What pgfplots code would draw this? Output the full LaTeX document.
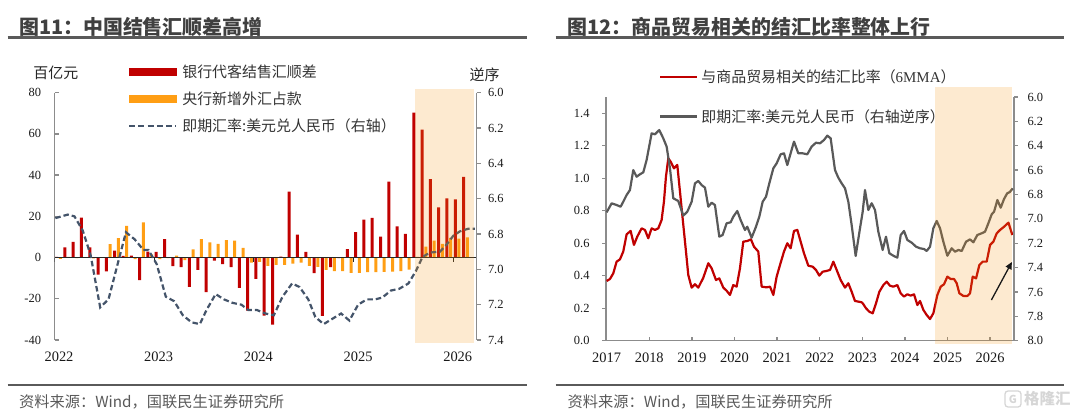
\documentclass[border=0pt]{standalone}
\usepackage{fontspec}
\setmainfont{Liberation Serif}
\newfontfamily\cjk{Noto Sans CJK SC}
\usepackage{pgfplots}
\usepackage{pgfplotstable}
\pgfplotsset{compat=1.18}
\usetikzlibrary{arrows.meta}
\definecolor{barred}{RGB}{192,0,0}
\definecolor{barorange}{RGB}{255,158,20}
\definecolor{slate}{RGB}{68,84,106}
\definecolor{linegray}{RGB}{89,89,89}
\definecolor{axisgray}{RGB}{140,140,140}
\definecolor{shadebase}{RGB}{245,150,20}
\definecolor{titlegray}{RGB}{64,64,64}
\definecolor{rulegray}{RGB}{90,90,90}
\definecolor{srcgray}{RGB}{89,89,89}

\pgfplotstableread{
k red orange
0 0.3 -0.6
1 4.9 0.3
2 7.6 -0.3
3 19.4 0.2
4 4.9 -0.4
5 -8.3 0.2
6 -6.7 6.5
7 3.4 9.4
8 0.8 15.4
9 1.0 -0.7
10 -10.9 17.1
11 2.9 1.5
12 2.8 -0.8
13 8.9 -0.3
14 -4.2 1.0
15 -4.6 -1.2
16 -14.2 4.0
17 -6.0 8.9
18 -16.8 7.4
19 -1.5 6.6
20 -3.2 8.5
21 -4.7 8.2
22 -14.7 4.7
23 -25.8 -2.4
24 -10.3 -2.1
25 -28.2 -4.0
26 -32.6 -3.5
27 0.4 -3.5
28 32.0 -2.9
29 11.1 -2.4
30 2.8 -4.0
31 -7.6 -4.5
32 -28.3 -6.0
33 -4.7 -6.6
34 -0.3 -6.6
35 4.1 -7.4
36 12.4 -7.4
37 18.4 -7.1
38 19.2 -7.1
39 10.2 -6.9
40 36.8 -6.8
41 15.1 -6.6
42 11.5 -5.8
43 70.3 0.3
44 62.1 5.3
45 38.1 8.2
46 24.4 6.6
47 28.7 9.5
48 28.2 9.2
49 39.1 9.8
}\bars

\pgfplotstableread{
x y
0.1 6.71
1.6 6.69
2.4 6.70
3.4 6.78
4.35 6.92
5.5 7.215
6.5 7.17
7.6 6.97
8.6 6.79
9.65 6.83
10.7 6.89
11.3 6.89
12.3 6.97
13.4 7.155
14.4 7.18
15.45 7.26
16.5 7.30
17.5 7.31
18.3 7.23
19.4 7.14
20.4 7.17
21.45 7.19
22.5 7.20
23.3 7.23
24.35 7.23
25.4 7.25
26.4 7.26
27.45 7.155
28.6 7.08
29.5 7.10
30.55 7.17
31.4 7.27
32.4 7.31
33.45 7.28
34.5 7.25
35.5 7.29
36.55 7.20
37.6 7.17
38.6 7.17
39.45 7.16
40.5 7.12
41.5 7.11
42.6 7.08
43.5 7.01
44.3 6.93
45.2 6.905
46.4 6.90
47.2 6.86
48.0 6.81
48.8 6.785
49.8 6.77
50.6 6.77
}\usdl

\pgfplotstableread{
t v
2017.00 0.368
2017.077 0.380
2017.156 0.415
2017.234 0.487
2017.312 0.501
2017.39 0.549
2017.469 0.655
2017.563 0.676
2017.641 0.590
2017.719 0.641
2017.821 0.692
2017.899 0.682
2017.977 0.631
2018.056 0.692
2018.134 0.682
2018.212 0.692
2018.29 0.743
2018.345 0.856
2018.392 1.010
2018.447 1.123
2018.502 1.102
2018.58 1.061
2018.658 1.082
2018.721 0.918
2018.799 0.713
2018.862 0.549
2018.916 0.405
2018.995 0.327
2019.073 0.348
2019.151 0.327
2019.268 0.388
2019.386 0.477
2019.464 0.446
2019.566 0.374
2019.644 0.384
2019.738 0.327
2019.816 0.308
2019.894 0.282
2019.972 0.343
2020.05 0.333
2020.129 0.446
2020.207 0.610
2020.3 0.614
2020.387 0.624
2020.458 0.579
2020.559 0.549
2020.638 0.333
2020.755 0.329
2020.834 0.333
2020.912 0.282
2020.99 0.395
2021.068 0.466
2021.162 0.549
2021.24 0.600
2021.318 0.569
2021.397 0.676
2021.475 0.682
2021.553 0.610
2021.632 0.538
2021.733 0.462
2021.835 0.456
2021.913 0.436
2021.991 0.401
2022.07 0.425
2022.164 0.430
2022.242 0.436
2022.32 0.487
2022.398 0.436
2022.492 0.374
2022.594 0.327
2022.672 0.354
2022.75 0.302
2022.828 0.245
2022.907 0.241
2022.985 0.237
2023.009 0.231
2023.087 0.200
2023.165 0.179
2023.243 0.169
2023.322 0.231
2023.4 0.302
2023.494 0.343
2023.572 0.364
2023.65 0.339
2023.728 0.333
2023.822 0.343
2023.901 0.292
2023.979 0.272
2024.057 0.286
2024.136 0.278
2024.214 0.286
2024.292 0.220
2024.354 0.245
2024.433 0.190
2024.511 0.159
2024.589 0.134
2024.667 0.169
2024.761 0.282
2024.84 0.333
2024.918 0.348
2024.996 0.395
2025.074 0.380
2025.153 0.380
2025.215 0.354
2025.278 0.292
2025.372 0.276
2025.466 0.276
2025.528 0.292
2025.591 0.395
2025.669 0.384
2025.747 0.466
2025.826 0.487
2025.919 0.487
2025.998 0.590
2026.076 0.610
2026.154 0.661
2026.233 0.682
2026.327 0.702
2026.43 0.727
2026.52 0.651
}\ratio

\pgfplotstableread{
t r
2017.00 6.946
2017.117 6.872
2017.234 6.886
2017.328 6.900
2017.39 6.859
2017.469 6.804
2017.547 6.763
2017.625 6.599
2017.703 6.654
2017.782 6.634
2017.86 6.618
2017.938 6.517
2018.056 6.298
2018.134 6.306
2018.235 6.271
2018.329 6.339
2018.408 6.407
2018.486 6.585
2018.564 6.831
2018.681 6.853
2018.799 6.973
2018.893 6.941
2018.995 6.859
2019.073 6.708
2019.151 6.689
2019.229 6.722
2019.308 6.744
2019.386 6.900
2019.464 6.867
2019.542 6.886
2019.644 7.146
2019.722 7.132
2019.816 7.036
2019.91 7.028
2019.972 6.982
2020.066 6.935
2020.144 7.009
2020.246 7.091
2020.30 7.064
2020.403 7.154
2020.505 7.064
2020.583 6.982
2020.662 6.859
2020.74 6.818
2020.818 6.708
2020.912 6.585
2020.99 6.544
2021.084 6.470
2021.162 6.462
2021.24 6.558
2021.318 6.462
2021.397 6.366
2021.498 6.462
2021.60 6.462
2021.709 6.470
2021.811 6.407
2021.912 6.375
2022.007 6.380
2022.10 6.353
2022.179 6.317
2022.257 6.339
2022.359 6.599
2022.437 6.662
2022.515 6.708
2022.594 6.749
2022.672 6.859
2022.75 7.050
2022.844 7.304
2022.946 7.077
2023.009 6.941
2023.063 6.763
2023.142 6.927
2023.22 6.872
2023.298 6.927
2023.376 7.105
2023.478 7.255
2023.556 7.146
2023.635 7.282
2023.728 7.302
2023.822 7.318
2023.901 7.132
2023.979 7.099
2024.057 7.173
2024.159 7.195
2024.261 7.228
2024.354 7.241
2024.448 7.247
2024.511 7.263
2024.589 7.228
2024.667 7.077
2024.746 7.017
2024.824 7.077
2024.902 7.187
2024.996 7.302
2025.098 7.241
2025.176 7.269
2025.254 7.255
2025.333 7.263
2025.434 7.187
2025.528 7.168
2025.606 7.192
2025.70 7.132
2025.802 7.118
2025.88 7.105
2025.958 7.036
2026.037 6.962
2026.092 6.941
2026.17 6.845
2026.248 6.908
2026.326 6.837
2026.40 6.79
2026.46 6.78
2026.53 6.75
}\usdr

\newcommand\ytsize{\fontsize{12.5}{12.5}\selectfont}
\newcommand\xtsize{\fontsize{14.5}{14.5}\selectfont}
\newcommand\lgsize{\fontsize{15}{15}\selectfont}

\begin{document}
\begin{tikzpicture}
\path[use as bounding box] (0,0) rectangle (1080bp,416bp);
% titles and rules
\node[anchor=west, inner sep=0pt, text=titlegray, font=\cjk\bfseries\fontsize{20}{20}\selectfont] at (18.9bp,389.3bp) {图11：中国结售汇顺差高增};
\node[anchor=west, inner sep=0pt, text=titlegray, font=\cjk\bfseries\fontsize{20}{20}\selectfont] at (567.5bp,389.3bp) {图12：商品贸易相关的结汇比率整体上行};
\draw[rulegray, line width=2.8bp] (7.6bp,378.7bp) -- (527bp,378.7bp);
\draw[rulegray, line width=2.8bp] (555.5bp,378.7bp) -- (1063.6bp,378.7bp);
\draw[rulegray, line width=2.5bp] (7.6bp,31bp) -- (527bp,31bp);
\draw[rulegray, line width=2.5bp] (555.5bp,31bp) -- (1063.6bp,31bp);
\node[anchor=west, inner sep=0pt, text=srcgray, font=\cjk\fontsize{15.3}{15.3}\selectfont] at (18.9bp,14.3bp) {资料来源：Wind，国联民生证券研究所};
\node[anchor=west, inner sep=0pt, text=srcgray, font=\cjk\fontsize{15.3}{15.3}\selectfont] at (567.5bp,14.3bp) {资料来源：Wind，国联民生证券研究所};
% watermark
\draw[black!16, line width=1.3bp, rounded corners=3bp] (1005bp,9bp) rectangle (1021bp,25bp);
\node[text=black!16, font=\cjk\bfseries\fontsize{11}{11}\selectfont, inner sep=0pt] at (1013bp,17bp) {G};
\node[anchor=west, inner sep=0pt, text=black!16, font=\cjk\bfseries\fontsize{15.5}{15.5}\selectfont] at (1024bp,17bp) {格隆汇};
% unit labels
\node[inner sep=0pt, text=black!85, font=\cjk\lgsize] at (55.8bp,342.7bp) {百亿元};
\node[inner sep=0pt, text=black!85, font=\cjk\lgsize] at (484.5bp,341bp) {逆序};

% ---------- left panel: bars, left axis ----------
\begin{axis}[
  at={(54.5bp,76bp)}, anchor=south west, scale only axis,
  width=422bp, height=247.3bp,
  xmin=0, xmax=50.8, ymin=-40, ymax=80,
  axis x line*=bottom, axis y line*=left,
  x axis line style={draw=none},
  y axis line style={-, draw=axisgray, line width=1.3bp},
  xtick={0,12,24,36,48}, xticklabels={2022,2023,2024,2025,2026},
  xtick style={draw=none},
  ytick={-40,-20,0,20,40,60,80}, yticklabels={-40,-20,0,20,40,60,80},
  ytick style={draw=axisgray, line width=1.3bp},
  tick align=inside, major tick length=4bp,
  yticklabel style={font=\ytsize, text=black!90, xshift=-10bp},
  xticklabel style={font=\xtsize, text=black!90, xshift=4.5bp, yshift=-8.5bp},
]
\addplot[ybar, bar width=3bp, bar shift=-1.85bp, fill=barred, draw=none] table[x expr=\thisrow{k}+0.47, y=red] {\bars};
\addplot[ybar, bar width=3bp, bar shift=1.85bp, fill=barorange, draw=none] table[x expr=\thisrow{k}+0.47, y=orange] {\bars};
\addplot[black!85, line width=1.2bp] coordinates {(0,0) (50.8,0)};
\pgfplotsinvokeforeach{0,12,24,36,48}{\draw[black!85, line width=1.2bp] (axis cs:#1,0) -- ++(0bp,-4bp);}
\end{axis}

% ---------- left panel: exchange rate, right axis ----------
\begin{axis}[
  at={(54.5bp,76bp)}, anchor=south west, scale only axis,
  width=422bp, height=247.3bp,
  xmin=0, xmax=50.8, ymin=6, ymax=7.4, y dir=reverse,
  axis x line=none, axis y line*=right,
  y axis line style={-, draw=axisgray, line width=1.3bp},
  ytick={6,6.2,6.4,6.6,6.8,7,7.2,7.4}, yticklabels={6.0,6.2,6.4,6.6,6.8,7.0,7.2,7.4},
  ytick style={draw=axisgray, line width=1.3bp},
  tick align=outside, major tick length=4bp,
  yticklabel style={font=\ytsize, text=black!90, xshift=4bp},
  clip=false,
  legend cell align=left,
  legend style={at={(axis description cs:0.174,1.119)}, anchor=north west, draw=none, fill=none,
    inner sep=0pt, row sep=11bp, column sep=4bp, font=\cjk\lgsize, text=black!80, nodes={inner sep=1bp}},
]
\addlegendimage{legend image code/.code={\fill[barred] (0bp,-3.5bp) rectangle (47bp,3.5bp);}}
\addlegendentry{银行代客结售汇顺差}
\addlegendimage{legend image code/.code={\fill[barorange] (0bp,-3.5bp) rectangle (47bp,3.5bp);}}
\addlegendentry{央行新增外汇占款}
\addplot[slate, line width=2.2bp, dash pattern=on 5.5bp off 3bp,
  legend image code/.code={\draw[slate, line width=2.2bp, dash pattern=on 6bp off 3.2bp] (0bp,0bp) -- (47bp,0bp);}] table[x=x, y=y] {\usdl};
\addlegendentry{即期汇率:美元兑人民币（右轴）}
\addplot[draw=none, fill=shadebase, fill opacity=0.2, forget plot] coordinates {(43.45,5.981) (50.5,5.981) (50.5,7.415) (43.45,7.415)};
\end{axis}

% ---------- right panel: ratio, left axis ----------
\begin{axis}[
  at={(606bp,75.2bp)}, anchor=south west, scale only axis,
  width=408bp, height=243.8bp,
  xmin=2016.985, xmax=2026.56, ymin=0, ymax=1.5,
  axis x line*=bottom, axis y line*=left,
  axis line style={-, draw=axisgray, line width=1.3bp},
  xtick={2017,2018,2019,2020,2021,2022,2023,2024,2025,2026},
  xticklabels={2017,2018,2019,2020,2021,2022,2023,2024,2025,2026},
  xtick style={draw=none},
  ytick={0,0.2,0.4,0.6,0.8,1.0,1.2,1.4}, yticklabels={0.0,0.2,0.4,0.6,0.8,1.0,1.2,1.4},
  ytick style={draw=axisgray, line width=1.3bp},
  tick align=outside, major tick length=4bp,
  yticklabel style={font=\ytsize, text=black!90, xshift=-9bp},
  xticklabel style={font=\xtsize, text=black!90, yshift=-5bp},
]
\addplot[barred, line width=2.2bp, line join=round] table[x=t, y=v] {\ratio};
\pgfplotsinvokeforeach{2018,2019,2020,2021,2022,2023,2024,2025,2026}{\draw[axisgray, line width=1.3bp] (axis cs:#1,0) -- ++(0bp,4bp);}
\end{axis}

% ---------- right panel: exchange rate, right axis reversed ----------
\begin{axis}[
  at={(606bp,75.2bp)}, anchor=south west, scale only axis,
  width=408bp, height=243.8bp,
  xmin=2016.985, xmax=2026.56, ymin=6, ymax=8, y dir=reverse,
  axis x line=none, axis y line*=right,
  y axis line style={-, draw=axisgray, line width=1.3bp},
  ytick={6,6.2,6.4,6.6,6.8,7,7.2,7.4,7.6,7.8,8},
  yticklabels={6.0,6.2,6.4,6.6,6.8,7.0,7.2,7.4,7.6,7.8,8.0},
  ytick style={draw=axisgray, line width=1.3bp},
  tick align=outside, major tick length=4bp,
  yticklabel style={font=\ytsize, text=black!90, xshift=6bp},
  clip=false,
  legend cell align=left,
  legend style={at={(axis description cs:0.129,1.116)}, anchor=north west, draw=none, fill=none,
    inner sep=0pt, row sep=23bp, column sep=2bp, font=\cjk\lgsize, text=black!80, nodes={inner sep=1bp}},
]
\addlegendimage{legend image code/.code={\draw[barred, line width=2.6bp] (0bp,0bp) -- (37bp,0bp);}}
\addlegendentry{与商品贸易相关的结汇比率（{\rmfamily 6MMA}）}
\addplot[linegray, line width=2.2bp, line join=round,
  legend image code/.code={\draw[linegray, line width=2.6bp] (0bp,0bp) -- (37bp,0bp);}] table[x=t, y=r] {\usdr};
\addlegendentry{即期汇率:美元兑人民币（右轴逆序）}
\addplot[draw=none, fill=shadebase, fill opacity=0.2, forget plot] coordinates {(2024.71,5.918) (2026.51,5.918) (2026.51,8.026) (2024.71,8.026)};
\draw[-{Triangle[length=7bp,width=6.5bp]}, line width=1.3bp, black!90] (axis cs:2026.03,7.665) -- (axis cs:2026.51,7.354);
\end{axis}
\end{tikzpicture}
\end{document}
